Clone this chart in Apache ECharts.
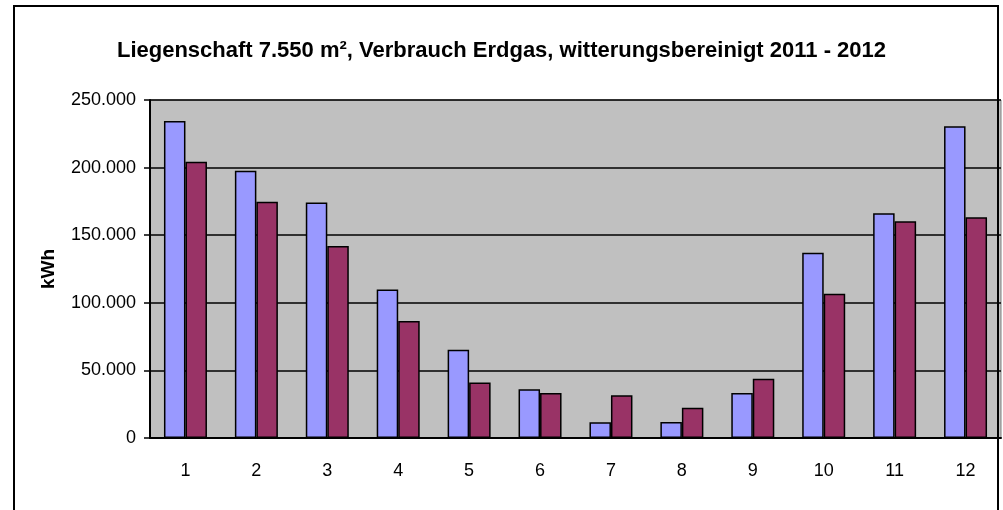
<!DOCTYPE html>
<html lang="de">
<head>
    <meta charset="UTF-8">
    <title>Verbrauch Erdgas</title>
    <script src="https://cdn.jsdelivr.net/npm/echarts@6/dist/echarts.min.js"></script>
    <style>
        html, body { margin: 0; padding: 0; background: #fff; }
        #chart { width: 1003px; height: 510px; }
    </style>
</head>
<body>
<div id="chart"></div>
<script>
    // Monate
    var months = ['1', '2', '3', '4', '5', '6', '7', '8', '9', '10', '11', '12']
    // witterungsbereinigter Verbrauch in kWh
    var verbrauch2011 = [234500, 197700, 174200, 109900, 65300, 36100, 11600, 11900, 33200, 137100, 166300, 230600]
    var verbrauch2012 = [204400, 174800, 142000, 86600, 41000, 33200, 31700, 22300, 43800, 106700, 160400, 163300]

    function fmt(v) {
        // deutsches Tausendertrennzeichen
        return String(v).replace(/\B(?=(\d{3})+(?!\d))/g, '.')
    }

    var chart = echarts.init(document.getElementById('chart'))
    var option = {
        animation: false,
        backgroundColor: '#ffffff',
        textStyle: { fontFamily: 'Liberation Sans, Arial, sans-serif' },
        title: {
            text: 'Liegenschaft 7.550 m², Verbrauch Erdgas, witterungsbereinigt 2011 - 2012',
            left: 'center',
            top: 35,
            textStyle: { fontSize: 22, fontWeight: 'bold', color: '#000', fontFamily: 'Liberation Sans, Arial, sans-serif' }
        },
        graphic: [{
            type: 'rect',
            shape: { x: 14, y: 6, width: 984, height: 530 },
            style: { fill: 'none', stroke: '#000', lineWidth: 2 },
            z: 10
        }],
        grid: {
            left: 150, top: 100, right: 2, bottom: 72,
            show: true,
            backgroundColor: '#c0c0c0',
            borderColor: '#808080',
            borderWidth: 1
        },
        xAxis: {
            type: 'category',
            data: months,
            axisLine: { lineStyle: { color: '#000', width: 2 } },
            axisTick: { length: 6, lineStyle: { color: '#000', width: 1.5 } },
            axisLabel: { color: '#000', fontSize: 18, margin: 24 }
        },
        yAxis: {
            type: 'value',
            min: 0, max: 250000, interval: 50000,
            name: 'kWh',
            nameLocation: 'middle',
            nameGap: 92,
            nameTextStyle: { fontSize: 19, fontWeight: 'bold', color: '#000' },
            axisLine: { show: true, lineStyle: { color: '#000', width: 2 } },
            axisTick: { show: true, length: 6, lineStyle: { color: '#000', width: 1.5 } },
            axisLabel: { color: '#000', fontSize: 18, margin: 14, formatter: fmt },
            splitLine: { lineStyle: { color: '#000', width: 1.5 } }
        },
        series: [
            {
                name: '2011',
                type: 'bar',
                data: verbrauch2011,
                barWidth: 21.5,
                barGap: '0%',
                itemStyle: { color: '#9999ff', borderColor: '#000', borderWidth: 1.5 }
            },
            {
                name: '2012',
                type: 'bar',
                data: verbrauch2012,
                barWidth: 21.5,
                itemStyle: { color: '#993366', borderColor: '#000', borderWidth: 1.5 }
            }
        ]
    }
    chart.setOption(option)
</script>
</body>
</html>
